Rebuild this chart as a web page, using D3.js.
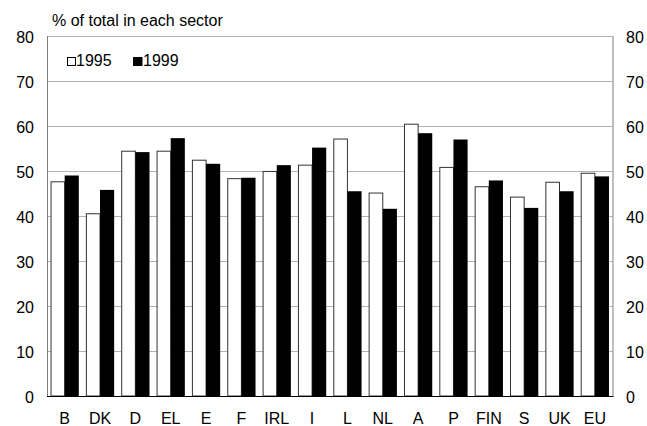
<!DOCTYPE html>
<html><head><meta charset="utf-8">
<script src="https://cdn.jsdelivr.net/npm/d3@7"></script>
<style>body{margin:0;background:#fff}svg{display:block}text{font-family:"Liberation Sans",Arial,sans-serif;fill:#000}</style>
</head><body><svg id="c" width="647" height="426"></svg>
<script>
const categories = ["B","DK","D","EL","E","F","IRL","I","L","NL","A","P","FIN","S","UK","EU"];
const values1995 = [47.6,40.5,54.4,54.4,52.4,48.3,49.9,51.3,57.1,45.1,60.4,50.8,46.5,44.2,47.5,49.5];
const values1999 = [49.0,45.8,54.2,57.3,51.6,48.5,51.3,55.2,45.5,41.6,58.4,57.0,47.9,41.8,45.5,48.8];
const seriesNames = ["1995","1999"];
const yTicks = [0,10,20,30,40,50,60,70,80];

const FS = 16;
const FF = '"Liberation Sans",Arial,sans-serif';
const svg = d3.select("#c");
const L = 47, R = 612.5, T = 36, B = 396;
const x = d3.scaleBand().domain(categories).range([L, R]).paddingInner(0.2).paddingOuter(0.1);
const x1 = d3.scaleBand().domain(seriesNames).range([0, x.bandwidth()]);
const y = d3.scaleLinear().domain([0, 80]).range([B, T]);

// gridlines
svg.append("g").selectAll("line").data(yTicks.filter(d => d > 0)).join("line")
  .attr("x1", L).attr("x2", R).attr("y1", d => y(d) + 0.5).attr("y2", d => y(d) + 0.5)
  .attr("stroke", "#b3b3b3").attr("stroke-width", 1);

// bars
const data = categories.map((c, i) => ({c, v: [values1995[i], values1999[i]]}));
const g = svg.append("g").selectAll("g").data(data).join("g").attr("transform", d => `translate(${x(d.c)},0)`);
g.append("rect").attr("x", x1("1995") + 0.5).attr("width", x1.bandwidth() - 0.5)
  .attr("y", d => y(d.v[0])).attr("height", d => B - y(d.v[0]))
  .attr("fill", "#fff").attr("stroke", "#333").attr("stroke-width", 1);
g.append("rect").attr("x", x1("1999")).attr("width", x1.bandwidth())
  .attr("y", d => y(d.v[1])).attr("height", d => B - y(d.v[1]))
  .attr("fill", "#000");

// axes frame
svg.append("line").attr("x1", L + 0.5).attr("x2", L + 0.5).attr("y1", T).attr("y2", B).attr("stroke", "#7f7f7f");
svg.append("line").attr("x1", R + 0.5).attr("x2", R + 0.5).attr("y1", T).attr("y2", B).attr("stroke", "#7f7f7f");
svg.append("line").attr("x1", L).attr("x2", R + 1).attr("y1", B + 0.5).attr("y2", B + 0.5).attr("stroke", "#000");

// left axis labels
const la = svg.append("g").attr("transform", `translate(${L},0)`)
  .call(d3.axisLeft(y).tickValues(yTicks).tickSize(0).tickPadding(13).tickFormat(d3.format("d")));
la.select(".domain").remove();
la.selectAll("text").attr("font-size", FS).attr("dy", "0.4em").style("font-family", FF);
const ra = svg.append("g").attr("transform", `translate(${R},0)`)
  .call(d3.axisRight(y).tickValues(yTicks).tickSize(0).tickPadding(13.5).tickFormat(d3.format("d")));
ra.select(".domain").remove();
ra.selectAll("text").attr("font-size", FS).attr("dy", "0.4em").style("font-family", FF);

// x axis labels
const xa = svg.append("g").attr("transform", `translate(0,${B})`)
  .call(d3.axisBottom(x).tickSize(0).tickPadding(16.5));
xa.select(".domain").remove();
xa.selectAll("text").attr("font-size", FS).style("font-family", FF);

// title
svg.append("text").attr("x", 52).attr("y", 26).attr("font-size", FS).text("% of total in each sector");

// legend
const leg = svg.append("g");
leg.append("rect").attr("x", 67.5).attr("y", 57.5).attr("width", 8).attr("height", 8).attr("fill", "#fff").attr("stroke", "#000");
leg.append("text").attr("x", 76).attr("y", 66).attr("font-size", FS).text(seriesNames[0]);
leg.append("rect").attr("x", 133).attr("y", 57).attr("width", 9.5).attr("height", 9).attr("fill", "#000");
leg.append("text").attr("x", 143).attr("y", 66).attr("font-size", FS).text(seriesNames[1]);
</script></body></html>
